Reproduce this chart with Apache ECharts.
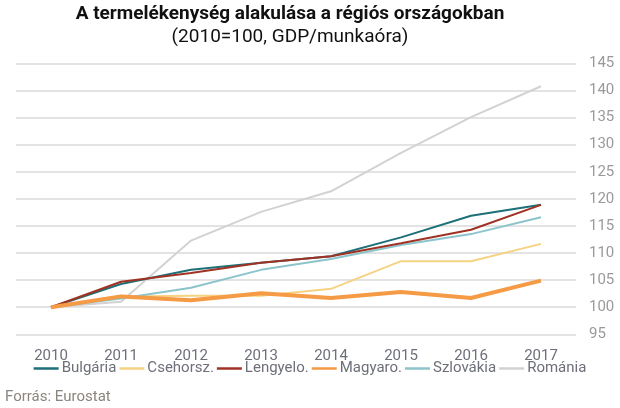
<!DOCTYPE html>
<html>
<head>
<meta charset="utf-8">
<script src="https://cdn.jsdelivr.net/npm/echarts@6/dist/echarts.min.js"></script>
<style>html,body{margin:0;padding:0;background:#fff}#c{width:620px;height:408px}</style>
</head>
<body>
<div id="c"></div>
<script>
const years = ['2010','2011','2012','2013','2014','2015','2016','2017'];
const seriesNames = ['Bulgária','Csehorsz.','Lengyelo.','Magyaro.','Szlovákia','Románia'];
const bulgaria   = [100, 104.3, 106.9, 108.2, 109.4, 112.9, 116.9, 118.9];
const csehorsz   = [100, 102.0, 102.1, 102.1, 103.4, 108.5, 108.5, 111.7];
const lengyelo   = [100, 104.7, 106.3, 108.2, 109.4, 111.8, 114.3, 118.9];
const magyaro    = [100, 102.0, 101.3, 102.6, 101.7, 102.8, 101.7, 104.9];
const szlovakia  = [100, 101.6, 103.6, 106.9, 108.9, 111.5, 113.5, 116.6];
const romania    = [100, 101.0, 112.3, 117.6, 121.4, 128.5, 135.1, 140.8];
const yTicks = [95, 100, 105, 110, 115, 120, 125, 130, 135, 140, 145];

const dataList = [bulgaria, csehorsz, lengyelo, magyaro, szlovakia, romania];
const colors = ['#1d6f78', '#f6d283', '#a03224', '#f59a45', '#8cc4cc', '#d2d2d2'];
const widths = [2, 2, 2, 4, 2, 2];
const zOrder = [4, 2, 5, 6, 3, 1];

const chart = echarts.init(document.getElementById('c'), null, {renderer: 'canvas'});
chart.setOption({
  animation: false,
  backgroundColor: '#fff',
  textStyle: {fontFamily: 'Roboto'},
  title: {
    text: 'A termelékenység alakulása a régiós országokban',
    subtext: '(2010=100, GDP/munkaóra)',
    left: 290,
    textAlign: 'center',
    top: 5,
    itemGap: 4,
    padding: 0,
    textStyle: {fontFamily: 'Roboto', fontWeight: 'bold', fontSize: 19, color: '#111'},
    subtextStyle: {fontFamily: 'Roboto', fontSize: 19, color: '#111'}
  },
  grid: {left: 16, right: 44, top: 63.5, bottom: 73.7, containLabel: false},
  legend: {
    data: seriesNames.map(n => ({name: n, icon: 'rect'})),
    left: 'center',
    top: 361,
    itemWidth: 25,
    itemHeight: 2.5,
    itemGap: 3,
    padding: 0,
    textStyle: {fontFamily: 'Roboto', fontSize: 15, color: '#6e7079', padding: [0, 0, 0, -2]}
  },
  xAxis: {
    type: 'category',
    data: years,
    boundaryGap: true,
    axisLine: {show: false},
    axisTick: {show: false},
    axisLabel: {fontFamily: 'Roboto', fontSize: 15, color: '#6e7079', margin: 14}
  },
  yAxis: {
    type: 'value',
    position: 'right',
    min: yTicks[0],
    max: yTicks[yTicks.length - 1],
    interval: 5,
    axisLine: {show: false},
    axisTick: {show: false},
    axisLabel: {fontFamily: 'Roboto', fontSize: 15, color: '#9a9a9a', margin: 13},
    splitLine: {lineStyle: {color: '#dadada', width: 1.5}}
  },
  graphic: [{
    type: 'text',
    left: 5,
    top: 390,
    style: {text: 'Forrás: Eurostat', fontFamily: 'Roboto', fontSize: 15, fill: '#8c857e'}
  }],
  series: seriesNames.map((n, i) => ({
    name: n,
    type: 'line',
    data: dataList[i],
    symbol: 'none',
    z: zOrder[i],
    color: colors[i],
    lineStyle: {color: colors[i], width: widths[i]}
  }))
});
</script>
</body>
</html>
